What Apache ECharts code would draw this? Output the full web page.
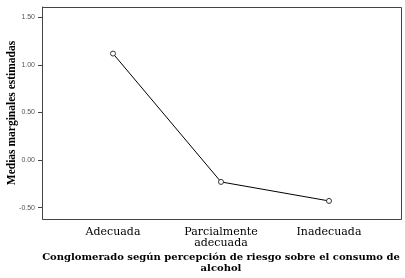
<!DOCTYPE html>
<html>
<head>
<meta charset="utf-8">
<script src="https://cdn.jsdelivr.net/npm/echarts@6/dist/echarts.min.js"></script>
<style>
  html, body { margin: 0; padding: 0; background: #fff; }
  #chart { width: 405px; height: 278px; }
</style>
</head>
<body>
<div id="chart"></div>
<script>
// categorias del eje x
const categories = ["Adecuada", "Parcialmente\nadecuada", "Inadecuada"];
// medias marginales estimadas
const means = [1.12, -0.23, -0.43];
// marcas del eje y
const yTicks = [-0.5, 0, 0.5, 1, 1.5];

const chart = echarts.init(document.getElementById("chart"));

const option = {
  animation: false,
  grid: { left: 59, right: 22, top: 7, bottom: 59, outerBoundsMode: "none" },
  // marco del area de trazado
  graphic: [{
    type: "rect",
    shape: { x: 42.5, y: 7.5, width: 359, height: 212 },
    style: { fill: "none", stroke: "#444", lineWidth: 1 },
    silent: true
  }],
  xAxis: {
    type: "category",
    data: categories,
    boundaryGap: true,
    name: "Conglomerado según percepción de riesgo sobre el consumo de\nalcohol",
    nameLocation: "middle",
    nameGap: 33,
    nameMoveOverlap: false,
    nameTextStyle: {
      fontFamily: "DejaVu Serif", fontWeight: "bold", fontSize: 10,
      color: "#000", lineHeight: 11
    },
    axisLine: { onZero: false, lineStyle: { color: "#444" } },
    axisTick: { alignWithLabel: true, length: 4, lineStyle: { color: "#444" } },
    axisLabel: {
      fontFamily: "DejaVu Serif", fontSize: 11, color: "#000",
      lineHeight: 11, margin: 8
    },
    splitLine: { show: false }
  },
  yAxis: {
    type: "value",
    min: -0.62,
    max: 1.61,
    offset: 17,
    name: "Medias marginales estimadas",
    nameLocation: "middle",
    nameGap: 24,
    nameMoveOverlap: false,
    nameTextStyle: {
      fontFamily: "Liberation Serif", fontWeight: "bold", fontSize: 11.5, color: "#000"
    },
    axisLine: { show: true, lineStyle: { color: "#444" } },
    axisTick: { show: true, length: 4, customValues: yTicks, lineStyle: { color: "#444" } },
    axisLabel: {
      customValues: yTicks,
      fontFamily: "Liberation Sans", fontSize: 7, color: "#555", margin: 7,
      formatter: v => v.toFixed(2)
    },
    splitLine: { show: false }
  },
  series: [{
    type: "line",
    data: means,
    symbol: "circle",
    symbolSize: 5,
    itemStyle: { color: "#fff", borderColor: "#333", borderWidth: 1 },
    lineStyle: { color: "#000", width: 1 }
  }]
};

chart.setOption(option);
</script>
</body>
</html>
